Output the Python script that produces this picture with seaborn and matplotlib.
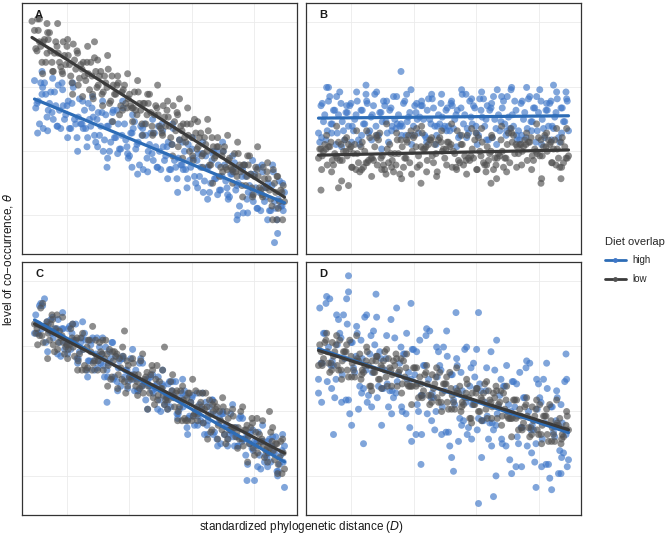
"""
Co-occurrence vs. standardized phylogenetic distance, four scenarios (A-D),
split by diet overlap (high / low). Scatter + linear fit per group.
"""
import matplotlib
matplotlib.use("Agg")
import matplotlib.pyplot as plt
import seaborn as sns
import pandas as pd
from matplotlib.lines import Line2D

# --- Daten (aus der Abbildung geschaetzt) ---
# gemeinsame x-Positionen fuer die Punktwolken
X_BASE = [0, 1, 2, 3, 4, 5, 6, 7, 8, 9, 10, 11, 12, 13, 14, 15, 16, 17, 18, 19,
          20, 21, 22, 23, 24, 25, 26, 27, 28, 29, 30, 31, 32, 33, 34, 35, 36, 37, 38, 39,
          40, 41, 42, 43, 44, 45, 46, 47, 48, 49, 50, 51, 52, 53, 54, 55, 56, 57, 58, 59,
          60, 61, 62, 63, 64, 65, 66, 67, 68, 69, 70, 71, 72, 73, 74, 75, 76, 77, 78, 79,
          80, 81, 82, 83, 84, 85, 86, 87, 88, 89, 90, 91, 92, 93, 94, 95, 96, 97, 98, 99,
          100]
X_HALF = [0.5, 1.5, 2.5, 3.5, 4.5, 5.5, 6.5, 7.5, 8.5, 9.5, 10.5, 11.5, 12.5, 13.5, 14.5,
          15.5, 16.5, 17.5, 18.5, 19.5, 20.5, 21.5, 22.5, 23.5, 24.5, 25.5, 26.5, 27.5, 28.5,
          29.5, 30.5, 31.5, 32.5, 33.5, 34.5, 35.5, 36.5, 37.5, 38.5, 39.5, 40.5, 41.5, 42.5,
          43.5, 44.5, 45.5, 46.5, 47.5, 48.5, 49.5, 50.5, 51.5, 52.5, 53.5, 54.5, 55.5, 56.5,
          57.5, 58.5, 59.5, 60.5, 61.5, 62.5, 63.5, 64.5, 65.5, 66.5, 67.5, 68.5, 69.5, 70.5,
          71.5, 72.5, 73.5, 74.5, 75.5, 76.5, 77.5, 78.5, 79.5, 80.5, 81.5, 82.5, 83.5, 84.5,
          85.5, 86.5, 87.5, 88.5, 89.5, 90.5, 91.5, 92.5, 93.5, 94.5, 95.5, 96.5, 97.5, 98.5,
          99.5]
# aeussere Randpunkte der Wolken
X_EDGE = [1.25, 3.25, 5.25, 7.25, 9.25, 11.25, 13.25, 15.25, 17.25, 19.25,
          21.25, 23.25, 25.25, 27.25, 29.25, 31.25, 33.25, 35.25, 37.25, 39.25,
          41.25, 43.25, 45.25, 47.25, 49.25, 51.25, 53.25, 55.25, 57.25, 59.25,
          61.25, 63.25, 65.25, 67.25, 69.25, 71.25, 73.25, 75.25, 77.25, 79.25,
          81.25, 83.25, 85.25, 87.25, 89.25, 91.25, 93.25, 95.25, 97.25, 99.25]

# Panel A
A_high_y = [71, 61, 52, 65, 70, 55, 61, 57, 66, 51, 58, 70, 54, 60, 50, 61, 54, 46, 63, 52,
            58, 42, 54, 59, 47, 54, 47, 57, 45, 51, 40, 53, 46, 58, 41, 47, 52, 42, 38, 48,
            53, 43, 34, 47, 52, 37, 43, 39, 48, 33, 40, 52, 36, 42, 32, 43, 36, 28, 45, 34,
            40, 24, 36, 41, 29, 36, 29, 39, 27, 33, 22, 36, 28, 40, 23, 29, 34, 24, 20, 30,
            35, 25, 16, 29, 34, 19, 25, 21, 30, 15, 22, 34, 18, 24, 14, 25, 18, 10, 27, 16, 22]
A_high_y2 = [59, 62, 70, 50, 65, 58, 66, 54, 60, 69, 50, 60, 56, 62, 50, 68, 52, 55, 52, 50,
             50, 61, 51, 55, 44, 57, 51, 40, 56, 51, 44, 58, 46, 52, 41, 59, 45, 37, 48, 50,
             41, 44, 51, 32, 47, 40, 48, 36, 42, 51, 32, 42, 38, 44, 32, 50, 33, 37, 34, 32,
             32, 43, 33, 37, 26, 39, 33, 22, 38, 33, 26, 40, 28, 34, 23, 40, 27, 19, 30, 32,
             23, 26, 33, 13, 29, 22, 30, 18, 24, 33, 14, 24, 20, 26, 14, 31, 15, 19, 16, 14]
A_high_y3 = [48, 68, 49, 72, 51, 67, 46, 70, 40, 62, 46, 64, 42, 62, 37, 57, 39, 62, 39, 56,
             30, 50, 31, 54, 33, 49, 28, 52, 22, 44, 28, 46, 24, 44, 19, 39, 21, 44, 21, 38,
             12, 32, 13, 36, 15, 31, 10, 34, 4, 26]
A_high_ox = [3, 29, 39, 81, 96]
A_high_oy = [75, 33, 33, 10, 0]
A_low_y = [93, 84, 88, 79, 89, 83, 92, 79, 83, 86, 79, 75, 82, 86, 78, 70, 80, 84, 72, 76,
           73, 79, 67, 73, 81, 68, 73, 65, 73, 68, 61, 73, 65, 69, 56, 66, 69, 59, 65, 59,
           66, 56, 61, 52, 61, 56, 65, 51, 56, 59, 51, 48, 55, 58, 51, 43, 53, 57, 45, 49,
           46, 52, 40, 46, 54, 41, 46, 38, 46, 40, 34, 46, 37, 42, 29, 38, 42, 32, 37, 32,
           39, 29, 34, 25, 34, 29, 38, 24, 29, 32, 24, 21, 28, 31, 23, 16, 26, 29, 18, 22, 18]
A_low_y2 = [85, 93, 86, 88, 79, 89, 84, 75, 88, 83, 77, 88, 78, 82, 73, 87, 76, 69, 78, 79,
            71, 74, 79, 63, 75, 69, 75, 66, 70, 76, 62, 69, 65, 70, 60, 67, 61, 63, 60, 59,
            58, 66, 58, 61, 52, 61, 57, 48, 60, 56, 50, 60, 51, 55, 46, 60, 49, 42, 51, 52,
            44, 47, 52, 36, 48, 42, 48, 39, 43, 49, 34, 42, 38, 42, 33, 40, 33, 36, 33, 31,
            31, 39, 31, 34, 25, 34, 30, 21, 33, 29, 23, 33, 24, 28, 19, 32, 22, 15, 23, 25]
A_low_y3 = [98, 74, 92, 75, 96, 74, 89, 65, 83, 64, 86, 65, 80, 60, 82, 53, 73, 58, 74, 53,
            71, 47, 65, 47, 69, 47, 62, 38, 56, 37, 59, 38, 53, 33, 54, 26, 46, 31, 47, 26,
            44, 20, 38, 20, 42, 20, 35, 10, 29, 10]
A_low_ox = [-1, 2, 5, 24, 58, 97]
A_low_oy = [97, 98, 96, 88, 63, 10]

# Panel B
B_high_y = [48, 60, 53, 45, 62, 52, 58, 43, 56, 61, 49, 57, 51, 61, 49, 56, 45, 58, 52, 65,
            48, 55, 60, 51, 47, 57, 62, 53, 44, 59, 64, 50, 56, 52, 61, 47, 55, 67, 51, 57,
            48, 60, 54, 46, 63, 52, 59, 43, 56, 61, 50, 58, 51, 61, 50, 56, 46, 59, 52, 65,
            48, 55, 60, 51, 47, 58, 63, 54, 45, 59, 64, 50, 56, 53, 62, 47, 55, 67, 51, 58,
            49, 61, 54, 46, 63, 53, 59, 44, 57, 62, 50, 58, 51, 62, 50, 57, 46, 59, 53, 66, 49]
B_high_y2 = [44, 61, 56, 49, 64, 52, 58, 48, 66, 53, 45, 57, 60, 51, 54, 62, 43, 58, 52, 61,
             49, 56, 65, 47, 57, 53, 60, 48, 58, 51, 54, 52, 51, 51, 62, 53, 57, 47, 60, 54,
             55, 60, 47, 58, 54, 63, 51, 51, 52, 55, 51, 59, 49, 60, 54, 58, 47, 65, 56, 50,
             62, 52, 59, 43, 63, 55, 51, 60, 58, 46, 54, 67, 49, 59, 52, 64, 50, 56, 62, 45,
             45, 62, 57, 50, 64, 53, 59, 49, 67, 54, 46, 58, 61, 51, 55, 63, 44, 59, 53, 62]
B_high_y3 = [46, 68, 48, 64, 42, 60, 44, 66, 47, 62, 45, 66, 41, 62, 49, 64, 47, 65, 43, 61,
             62, 44, 65, 47, 65, 49, 62, 42, 67, 46, 63, 48, 66, 45, 61, 43, 64, 49, 68, 47,
             47, 68, 49, 64, 43, 61, 45, 66, 48, 63]
B_high_ox = [4, 19, 33, 94]
B_high_oy = [68, 69, 75, 69]
B_low_y = [37, 41, 40, 41, 42, 44, 34, 38, 44, 43, 40, 40, 43, 42, 39, 32, 35, 42, 33, 35,
           36, 37, 36, 47, 45, 37, 34, 30, 35, 39, 31, 34, 39, 45, 33, 37, 47, 49, 46, 42,
           38, 42, 41, 42, 43, 45, 35, 39, 45, 44, 41, 41, 44, 43, 40, 33, 36, 43, 34, 36,
           37, 38, 37, 48, 46, 38, 35, 31, 36, 40, 32, 34, 39, 45, 33, 37, 48, 50, 47, 43,
           39, 43, 42, 43, 44, 46, 36, 40, 46, 45, 42, 42, 45, 44, 41, 34, 37, 44, 35, 37, 38]
B_low_y2 = [41, 38, 43, 34, 42, 36, 39, 37, 36, 36, 45, 38, 41, 33, 43, 39, 31, 44, 40, 35,
            46, 37, 42, 34, 48, 38, 32, 41, 43, 36, 39, 45, 30, 42, 37, 44, 35, 40, 47, 33,
            34, 48, 41, 36, 45, 38, 43, 31, 46, 40, 37, 44, 42, 33, 39, 49, 35, 43, 38, 47,
            36, 41, 45, 32, 40, 44, 34, 42, 39, 46, 37, 37, 38, 40, 37, 43, 35, 44, 39, 42,
            43, 40, 45, 36, 44, 38, 41, 39, 38, 38, 47, 40, 43, 35, 45, 41, 33, 46, 42, 37]
B_low_y3 = [32, 47, 31, 51, 27, 46, 33, 49, 32, 49, 29, 46, 32, 52, 33, 48, 28, 45, 30, 50,
            51, 31, 46, 29, 49, 34, 52, 32, 47, 30, 50, 32, 50, 34, 47, 28, 51, 31, 48, 33,
            34, 48, 32, 52, 28, 48, 35, 50, 33, 50]
B_low_ox = [1, 8, 12, 41, 69, 89, 97]
B_low_oy = [23, 24, 25, 26, 26, 26, 28]

# Panel C
C_high_y = [74, 78, 86, 76, 77, 79, 75, 74, 76, 76, 70, 76, 67, 69, 77, 74, 71, 63, 66, 72,
            74, 58, 62, 71, 58, 72, 68, 65, 55, 58, 66, 70, 55, 53, 62, 63, 55, 58, 55, 56,
            49, 54, 61, 51, 53, 54, 51, 49, 51, 52, 45, 52, 43, 44, 53, 49, 46, 39, 41, 48,
            49, 33, 38, 46, 34, 48, 43, 41, 30, 34, 42, 45, 31, 28, 37, 39, 30, 34, 30, 31,
            25, 29, 37, 27, 28, 30, 26, 24, 27, 27, 21, 27, 18, 20, 28, 25, 22, 14, 17, 23, 25]
C_high_y2 = [82, 74, 87, 77, 70, 78, 80, 72, 75, 80, 64, 76, 70, 76, 67, 71, 78, 63, 70, 67,
             71, 62, 69, 62, 65, 62, 61, 60, 68, 61, 63, 54, 64, 59, 51, 63, 58, 53, 63, 54,
             58, 49, 63, 52, 45, 54, 55, 48, 50, 55, 40, 51, 46, 52, 42, 47, 53, 39, 46, 42,
             47, 37, 44, 38, 40, 38, 36, 35, 44, 36, 39, 30, 39, 35, 26, 39, 34, 28, 39, 29,
             33, 25, 38, 28, 21, 29, 31, 23, 26, 31, 15, 27, 21, 27, 18, 22, 29, 14, 21, 18]
C_high_y3 = [74, 86, 66, 81, 65, 83, 65, 78, 61, 79, 55, 72, 59, 72, 55, 70, 49, 64, 50, 67,
             49, 61, 41, 56, 41, 58, 41, 53, 37, 54, 30, 47, 34, 48, 30, 45, 25, 40, 25, 43,
             25, 37, 17, 32, 16, 34, 16, 29, 12, 30]
C_high_ox = [4, 29, 85, 88, 100]
C_high_oy = [89, 44, 10, 10, 7]
C_low_y = [78, 76, 73, 73, 77, 79, 71, 82, 66, 82, 75, 73, 65, 69, 69, 72, 64, 72, 65, 58,
           60, 68, 71, 58, 62, 64, 70, 65, 63, 65, 67, 55, 66, 65, 63, 54, 53, 62, 55, 55,
           56, 53, 50, 51, 54, 57, 48, 60, 43, 60, 53, 50, 43, 46, 47, 49, 42, 49, 42, 36,
           37, 46, 48, 36, 39, 42, 48, 42, 41, 42, 45, 32, 44, 42, 40, 32, 30, 40, 32, 33,
           33, 31, 28, 28, 32, 34, 26, 37, 21, 37, 30, 28, 20, 24, 24, 27, 19, 26, 20, 13, 15]
C_low_y2 = [74, 78, 85, 70, 77, 74, 78, 69, 76, 70, 72, 70, 68, 67, 76, 68, 71, 62, 72, 67,
            58, 71, 66, 61, 71, 62, 66, 58, 71, 60, 54, 62, 64, 56, 59, 64, 48, 60, 54, 61,
            51, 56, 62, 48, 55, 51, 56, 46, 54, 47, 50, 47, 45, 45, 53, 46, 48, 40, 49, 45,
            36, 48, 44, 38, 49, 39, 44, 35, 48, 38, 31, 40, 41, 34, 36, 42, 26, 37, 32, 38,
            29, 33, 40, 25, 32, 29, 33, 24, 31, 25, 27, 25, 23, 22, 31, 23, 26, 17, 27, 22]
C_low_y3 = [69, 87, 63, 80, 67, 81, 63, 78, 58, 74, 59, 77, 58, 71, 51, 66, 50, 68, 51, 63,
            47, 65, 41, 58, 45, 58, 41, 56, 36, 51, 36, 54, 36, 48, 28, 43, 28, 46, 28, 41,
            24, 42, 18, 35, 22, 36, 18, 33, 13, 28]
C_low_ox = [36, 52, 94]
C_low_oy = [75, 68, 40]

# Panel D
D_high_y = [54, 61, 74, 87, 68, 60, 60, 54, 80, 72, 82, 45, 45, 70, 59, 64, 41, 71, 50, 58,
            47, 73, 75, 64, 51, 63, 50, 63, 42, 80, 46, 48, 56, 68, 65, 39, 57, 54, 67, 30,
            40, 47, 60, 73, 54, 46, 46, 40, 66, 58, 68, 31, 31, 56, 45, 50, 27, 57, 36, 44,
            33, 59, 61, 50, 37, 49, 36, 49, 28, 66, 32, 34, 42, 54, 51, 25, 43, 40, 53, 16,
            26, 33, 46, 59, 40, 32, 32, 26, 52, 44, 54, 17, 17, 42, 31, 36, 13, 43, 22, 30, 19]
D_high_y2 = [85, 61, 74, 53, 89, 62, 46, 69, 74, 56, 63, 78, 39, 70, 57, 74, 51, 63, 81, 44,
             65, 57, 69, 46, 66, 50, 58, 52, 49, 49, 72, 53, 61, 40, 65, 54, 33, 67, 56, 43,
             71, 47, 60, 39, 75, 48, 32, 55, 60, 42, 49, 64, 25, 56, 43, 60, 37, 49, 67, 30,
             51, 43, 55, 32, 52, 36, 44, 38, 35, 35, 58, 39, 47, 26, 51, 40, 19, 53, 42, 29,
             57, 33, 46, 25, 61, 34, 18, 41, 46, 28, 35, 50, 11, 42, 29, 46, 23, 35, 53, 16]
D_high_y3 = [44, 90, 50, 82, 44, 89, 34, 77, 48, 82, 42, 81, 34, 73, 39, 85, 42, 74, 27, 66,
             30, 76, 36, 68, 30, 75, 20, 63, 34, 68, 28, 67, 20, 59, 25, 71, 28, 60, 13, 52,
             16, 62, 22, 54, 16, 61, 6, 49, 20, 54]
D_high_ox = [0, 6, 12, 12, 18, 23, 37, 41, 54, 55, 64, 64, 70, 71, 87, 97, 99]
D_high_oy = [48, 30, 99, 92, 26, 91, 87, 17, 14, 83, 83, 0, 3, 12, 7, 13, 65]
D_low_y = [60, 66, 63, 71, 61, 61, 64, 69, 58, 58, 66, 66, 55, 64, 58, 62, 62, 54, 57, 62,
           60, 51, 57, 62, 54, 60, 62, 55, 63, 58, 62, 65, 57, 63, 62, 59, 51, 51, 59, 51,
           46, 52, 49, 57, 47, 47, 50, 55, 44, 44, 52, 52, 41, 50, 44, 48, 48, 40, 43, 48,
           46, 37, 43, 48, 40, 46, 48, 41, 49, 44, 48, 51, 43, 49, 48, 45, 37, 37, 45, 37,
           32, 38, 35, 43, 33, 33, 36, 41, 30, 30, 38, 38, 27, 36, 30, 34, 34, 26, 29, 34, 32]
D_low_y2 = [69, 60, 70, 66, 57, 70, 66, 60, 71, 62, 66, 58, 71, 61, 55, 63, 65, 58, 60, 66,
            51, 62, 57, 64, 54, 59, 66, 51, 59, 56, 60, 51, 58, 52, 55, 52, 51, 51, 59, 52,
            55, 46, 56, 52, 43, 56, 52, 46, 57, 48, 52, 44, 57, 47, 41, 49, 51, 44, 46, 52,
            37, 48, 43, 50, 40, 45, 52, 37, 45, 42, 46, 37, 44, 38, 41, 38, 37, 37, 45, 38,
            41, 32, 42, 38, 29, 42, 38, 32, 43, 34, 38, 30, 43, 33, 27, 35, 37, 30, 32, 38]
D_low_y3 = [61, 74, 58, 73, 54, 69, 55, 73, 56, 68, 49, 64, 50, 67, 51, 63, 48, 65, 43, 59,
            47, 60, 44, 59, 40, 55, 41, 59, 42, 54, 35, 50, 36, 53, 37, 49, 34, 51, 29, 45,
            33, 46, 30, 45, 26, 41, 27, 45, 28, 40]
D_low_ox = []
D_low_oy = []

PANELS = {
    "A": ((A_high_y, A_high_y2, A_high_y3, A_high_ox, A_high_oy),
          (A_low_y, A_low_y2, A_low_y3, A_low_ox, A_low_oy)),
    "B": ((B_high_y, B_high_y2, B_high_y3, B_high_ox, B_high_oy),
          (B_low_y, B_low_y2, B_low_y3, B_low_ox, B_low_oy)),
    "C": ((C_high_y, C_high_y2, C_high_y3, C_high_ox, C_high_oy),
          (C_low_y, C_low_y2, C_low_y3, C_low_ox, C_low_oy)),
    "D": ((D_high_y, D_high_y2, D_high_y3, D_high_ox, D_high_oy),
          (D_low_y, D_low_y2, D_low_y3, D_low_ox, D_low_oy)),
}

# Gitterlinien (keine Beschriftung in der Vorlage)
X_GRID = [13, 38, 63, 88]
Y_GRID = [12, 40.2, 68.4, 96.6]

# --- Stil ---
COL_POINT = {"high": "#3f77c8", "low": "#525252"}
COL_LINE = {"high": "#2d6cb6", "low": "#3a3a3a"}
W, H = 665, 534
# Panel-Positionen in Pixel (links, oben, rechts, unten)
BOXES = {"A": (22, 3, 297, 254), "B": (306, 3, 581, 254),
         "C": (22, 262, 297, 515), "D": (306, 262, 581, 515)}

sns.set_theme(style="whitegrid")
plt.rcParams['font.family'] = ['Liberation Sans', 'DejaVu Sans']
plt.rcParams['mathtext.fontset'] = 'dejavusans'


def build_df(high, low):
    rows = []
    for grp, (y1, y2, y3, ox, oy) in (("high", high), ("low", low)):
        for x, y in zip(X_BASE + X_HALF + X_EDGE + ox, y1 + y2 + y3 + oy):
            rows.append((x, y, grp))
    return pd.DataFrame(rows, columns=["dist", "theta", "diet"])


fig = plt.figure(figsize=(W / 100, H / 100), dpi=100)

for name, (high, low) in PANELS.items():
    l, t, r, b = BOXES[name]
    ax = fig.add_axes([l / W, 1 - b / H, (r - l) / W, (b - t) / H])
    df = build_df(high, low)

    sns.scatterplot(data=df, x="dist", y="theta", hue="diet", hue_order=["high", "low"],
                    palette=COL_POINT, s=25, alpha=0.66, linewidth=0, legend=False, ax=ax)
    for grp in ["high", "low"]:
        sub = df[df["diet"] == grp]
        sns.regplot(data=sub, x="dist", y="theta", scatter=False, ci=None,
                    color=COL_LINE[grp], line_kws={"lw": 2.3}, ax=ax)

    ax.set_xlim(-5, 105)
    ax.set_ylim(-5, 105)
    ax.set_xticks(X_GRID)
    ax.set_yticks(Y_GRID)
    ax.set_xticklabels([])
    ax.set_yticklabels([])
    ax.tick_params(length=0)
    ax.set_xlabel("")
    ax.set_ylabel("")
    ax.grid(True, color="#ebebeb", lw=0.6)
    ax.set_facecolor("white")
    for sp in ax.spines.values():
        sp.set_visible(True)
        sp.set_color("#333333")
        sp.set_linewidth(0.9)
    ax.text(0.062, 0.952, name, transform=ax.transAxes, fontsize=8,
            fontweight="bold", va="center", ha="center", color="#1a1a1a")

fig.text(0.012, 0.515, "level of co\u2212occurrence, $\\theta$", rotation=90,
         fontsize=8.5, va="center", ha="center", color="#1a1a1a")
fig.text(0.453, 0.013, "standardized phylogenetic distance ($D$)",
         fontsize=8.5, va="center", ha="center", color="#1a1a1a")

handles = [Line2D([], [], color=COL_LINE[g], lw=2, marker="o", markersize=3.5,
                  markerfacecolor=COL_POINT[g], markeredgewidth=0) for g in ["high", "low"]]
leg = fig.legend(handles, ["high", "low"], title="Diet overlap", loc="upper left",
                 bbox_to_anchor=(596 / W, 1 - 228 / H), frameon=False, fontsize=7,
                 title_fontsize=8, handlelength=2.2, handletextpad=0.6, labelspacing=0.9)
leg._legend_box.align = "left"

fig.savefig("out.png", dpi=100)
